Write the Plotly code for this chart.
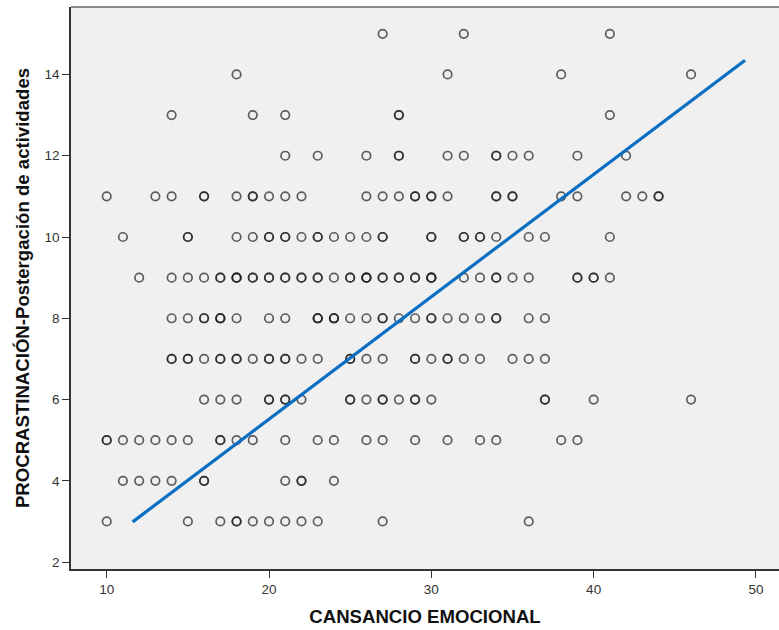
import plotly.graph_objects as go

# CANSANCIO EMOCIONAL scores observed at each level of the procrastination scale
x_at_3 = [10, 15, 17, 18, 18, 19, 20, 21, 22, 23, 27, 36]
x_at_4 = [11, 12, 13, 14, 16, 16, 21, 22, 22, 24]
x_at_5 = [10, 10, 11, 12, 13, 14, 15, 17, 17, 18, 19, 21, 23, 24, 26, 27, 29, 31, 33, 34, 38, 39]
x_at_6 = [16, 17, 18, 20, 20, 21, 21, 22, 25, 25, 26, 27, 27, 28, 29, 29, 30, 37, 37, 40, 46]
x_at_7 = [14, 14, 15, 15, 16, 17, 17, 18, 18, 19, 20, 20, 21, 21, 22, 23, 25, 25, 26, 27,
          29, 29, 30, 31, 31, 32, 33, 35, 36, 37]
x_at_8 = [14, 15, 16, 16, 17, 17, 17, 18, 20, 21, 23, 23, 23, 24, 24, 24, 25, 26, 27, 27,
          28, 29, 30, 30, 31, 32, 33, 34, 34, 36, 37]
x_at_9 = [12, 14, 15, 16, 17, 17, 18, 18, 18, 19, 19, 20, 20, 21, 21, 22, 22, 23, 23, 24,
          25, 25, 26, 26, 26, 27, 27, 28, 28, 29, 29, 30, 30, 30, 32, 33, 34, 34, 35, 36,
          39, 39, 40, 40, 41]
x_at_10 = [11, 15, 15, 18, 19, 20, 20, 21, 21, 22, 23, 23, 24, 25, 26, 27, 27, 30, 30, 32,
           32, 33, 33, 34, 36, 37, 41]
x_at_11 = [10, 13, 14, 16, 16, 18, 19, 19, 20, 21, 22, 26, 27, 28, 29, 29, 30, 30, 31, 34,
           34, 35, 35, 38, 39, 42, 43, 44, 44]
x_at_12 = [21, 23, 26, 28, 28, 31, 32, 34, 34, 35, 36, 39, 42]
x_at_13 = [14, 19, 21, 28, 28, 41]
x_at_14 = [18, 31, 38, 46]
x_at_15 = [27, 32, 41]

# Fitted line end points
fit_x = [11.6, 49.33]
fit_y = [2.99, 14.35]

x_tick_vals = [10, 20, 30, 40, 50]
y_tick_vals = [2, 4, 6, 8, 10, 12, 14]

rows = {
    3: x_at_3, 4: x_at_4, 5: x_at_5, 6: x_at_6, 7: x_at_7, 8: x_at_8, 9: x_at_9,
    10: x_at_10, 11: x_at_11, 12: x_at_12, 13: x_at_13, 14: x_at_14, 15: x_at_15,
}
xs, ys = [], []
for level, vals in rows.items():
    xs.extend(vals)
    ys.extend([level] * len(vals))

fig = go.Figure()
fig.add_trace(go.Scatter(
    x=xs, y=ys, mode="markers",
    marker=dict(symbol="circle", size=8.5, color="rgba(0,0,0,0)",
                line=dict(color="rgba(30,30,30,0.7)", width=1.7)),
    hoverinfo="x+y", showlegend=False,
))
fig.add_trace(go.Scatter(
    x=fit_x, y=fit_y, mode="lines",
    line=dict(color="#0a6fc2", width=3.2),
    showlegend=False, hoverinfo="skip",
))

font_family = "Liberation Sans, Arial, sans-serif"
fig.update_layout(
    width=779, height=630,
    margin=dict(l=71, r=0, t=7, b=61),
    paper_bgcolor="white",
    plot_bgcolor="#f0f0f0",
    font=dict(family=font_family, size=13, color="#333333"),
    xaxis=dict(
        range=[7.8, 51.42], tickvals=x_tick_vals, ticks="outside", ticklen=7,
        tickwidth=1.2, tickcolor="#333333", showgrid=False, zeroline=False,
        showline=True, linecolor="#333333", linewidth=1.5,
        tickfont=dict(size=13.5, color="#333333"),
        title=dict(text="<b>CANSANCIO EMOCIONAL</b>", standoff=14,
                   font=dict(size=18.6, color="#111111")),
    ),
    yaxis=dict(
        range=[1.83, 15.66], tickvals=y_tick_vals, ticks="outside", ticklen=7,
        tickwidth=1.2, tickcolor="#333333", showgrid=False, zeroline=False,
        showline=True, linecolor="#333333", linewidth=1.5,
        tickfont=dict(size=13.5, color="#333333"),
        title=dict(text="<b>PROCRASTINACIÓN-Postergación de actividades</b>", standoff=10,
                   font=dict(size=18.6, color="#111111")),
    ),
    shapes=[dict(type="line", xref="paper", yref="paper", x0=0, x1=1, y0=1, y1=1,
                 line=dict(color="#8c8c8c", width=2))],
)

fig.write_html("out.html")
